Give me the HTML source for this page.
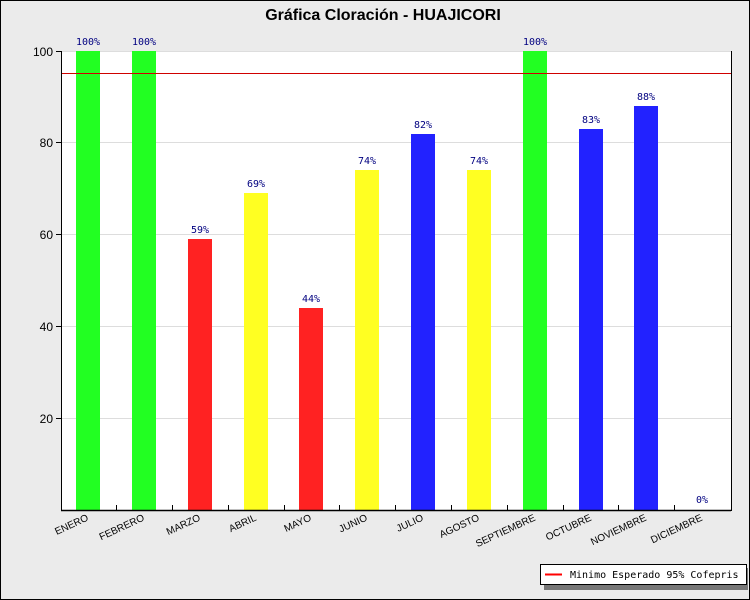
<!DOCTYPE html>
<html><head><meta charset="utf-8"><style>
html,body{margin:0;padding:0;background:#fff}
svg{display:block}
</style></head><body>
<svg width="750" height="600" xmlns="http://www.w3.org/2000/svg" font-family="Liberation Sans, DejaVu Sans, sans-serif">
<rect x="0" y="0" width="750" height="600" fill="#ebebeb"/>
<rect x="0.5" y="0.5" width="749" height="599" fill="none" stroke="#000"/>
<text x="383" y="20" text-anchor="middle" font-size="16" font-weight="bold" fill="#000">Gráfica Cloración - HUAJICORI</text>
<rect x="61" y="51" width="670" height="459" fill="#fff"/>
<g stroke="#ddd" stroke-width="1">
<line x1="61" x2="731" y1="142.5" y2="142.5"/>
<line x1="61" x2="731" y1="234.5" y2="234.5"/>
<line x1="61" x2="731" y1="326.5" y2="326.5"/>
<line x1="61" x2="731" y1="418.5" y2="418.5"/>
<line x1="61" x2="731" y1="51.5" y2="51.5"/>
</g>
<g font-size="10" text-anchor="middle" fill="#000080" font-family="DejaVu Sans Mono, Liberation Mono, monospace">
<rect x="76" y="51" width="24" height="459" fill="#22ff22"/><text x="88" y="45">100%</text>
<rect x="132" y="51" width="24" height="459" fill="#22ff22"/><text x="144" y="45">100%</text>
<rect x="188" y="239" width="24" height="271" fill="#ff2222"/><text x="200" y="233">59%</text>
<rect x="244" y="193" width="24" height="317" fill="#ffff22"/><text x="256" y="187">69%</text>
<rect x="299" y="308" width="24" height="202" fill="#ff2222"/><text x="311" y="302">44%</text>
<rect x="355" y="170" width="24" height="340" fill="#ffff22"/><text x="367" y="164">74%</text>
<rect x="411" y="134" width="24" height="376" fill="#2222ff"/><text x="423" y="128">82%</text>
<rect x="467" y="170" width="24" height="340" fill="#ffff22"/><text x="479" y="164">74%</text>
<rect x="523" y="51" width="24" height="459" fill="#22ff22"/><text x="535" y="45">100%</text>
<rect x="579" y="129" width="24" height="381" fill="#2222ff"/><text x="591" y="123">83%</text>
<rect x="634" y="106" width="24" height="404" fill="#2222ff"/><text x="646" y="100">88%</text>
<text x="702" y="503">0%</text>
</g>
<line x1="61" x2="731" y1="73.5" y2="73.5" stroke="#d00000" stroke-width="1"/>
<line x1="61.5" y1="51" x2="61.5" y2="510" stroke="#000"/>
<line x1="61" y1="510.5" x2="731" y2="510.5" stroke="#000" stroke-width="1.5"/>
<line x1="731.5" y1="51" x2="731.5" y2="511" stroke="#000"/>
<g stroke="#000">
<line x1="56" x2="61" y1="51.5" y2="51.5"/><line x1="56" x2="61" y1="142.5" y2="142.5"/>
<line x1="56" x2="61" y1="234.5" y2="234.5"/><line x1="56" x2="61" y1="326.5" y2="326.5"/>
<line x1="56" x2="61" y1="418.5" y2="418.5"/>
<line x1="116.5" x2="116.5" y1="505" y2="510"/><line x1="172.5" x2="172.5" y1="505" y2="510"/>
<line x1="228.5" x2="228.5" y1="505" y2="510"/><line x1="284.5" x2="284.5" y1="505" y2="510"/>
<line x1="339.5" x2="339.5" y1="505" y2="510"/><line x1="395.5" x2="395.5" y1="505" y2="510"/>
<line x1="451.5" x2="451.5" y1="505" y2="510"/><line x1="507.5" x2="507.5" y1="505" y2="510"/>
<line x1="563.5" x2="563.5" y1="505" y2="510"/><line x1="618.5" x2="618.5" y1="505" y2="510"/>
<line x1="674.5" x2="674.5" y1="505" y2="510"/>
</g>
<g font-size="12" text-anchor="end" fill="#000">
<text x="53" y="56">100</text><text x="53" y="147">80</text><text x="53" y="239">60</text>
<text x="53" y="331">40</text><text x="53" y="423">20</text>
</g>
<g font-size="10" text-anchor="end" fill="#000">
<text transform="translate(89,520) rotate(-25)">ENERO</text>
<text transform="translate(145,520) rotate(-25)">FEBRERO</text>
<text transform="translate(201,520) rotate(-25)">MARZO</text>
<text transform="translate(257,520) rotate(-25)">ABRIL</text>
<text transform="translate(312,520) rotate(-25)">MAYO</text>
<text transform="translate(368,520) rotate(-25)">JUNIO</text>
<text transform="translate(424,520) rotate(-25)">JULIO</text>
<text transform="translate(480,520) rotate(-25)">AGOSTO</text>
<text transform="translate(536,520) rotate(-25)">SEPTIEMBRE</text>
<text transform="translate(592,520) rotate(-25)">OCTUBRE</text>
<text transform="translate(647,520) rotate(-25)">NOVIEMBRE</text>
<text transform="translate(703,520) rotate(-25)">DICIEMBRE</text>
</g>
<rect x="544" y="568" width="204" height="22" fill="#777"/>
<rect x="540.5" y="564.5" width="206" height="20" fill="#fff" stroke="#000"/>
<line x1="545" x2="562" y1="574.5" y2="574.5" stroke="#f00" stroke-width="2"/>
<text x="570" y="578" font-size="10" font-family="DejaVu Sans Mono, Liberation Mono, monospace" fill="#000">Minimo Esperado 95% Cofepris</text>
</svg>
</body></html>
